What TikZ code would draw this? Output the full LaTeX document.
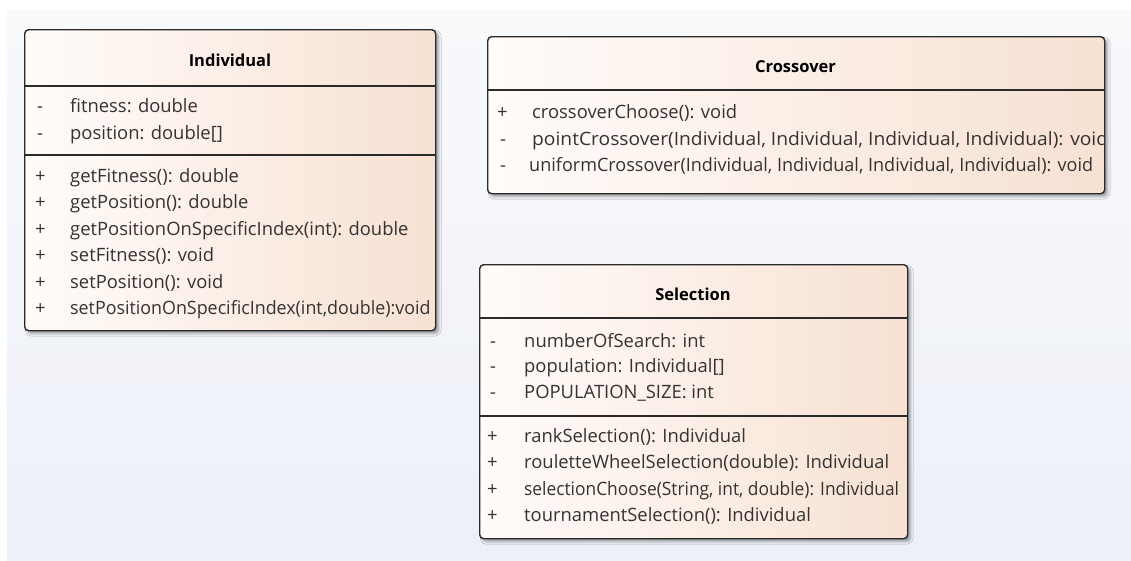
\documentclass[tikz,border=0pt]{standalone}
\usepackage{fontspec}
\setmainfont{Open Sans}
\usetikzlibrary{shadows.blur}

\definecolor{canvastop}{HTML}{F8F9FB}
\definecolor{canvasbot}{HTML}{EDF0F8}
\definecolor{boxleft}{HTML}{FFFCFA}
\definecolor{boxright}{HTML}{F7E1D3}
\definecolor{boxline}{HTML}{2A2A2A}
\definecolor{membertext}{HTML}{353331}

\tikzset{
  classbox/.style={draw=boxline, line width=1.4pt, rounded corners=4pt,
    left color=boxleft, right color=boxright, inner sep=0pt,
    anchor=north west,
    blur shadow={shadow xshift=3pt, shadow yshift=-3pt, shadow opacity=35,
      shadow blur radius=2.5pt, shadow blur steps=6}},
  divider/.style={draw=boxline, line width=1.4pt},
  title/.style={font=\fontsize{16.5}{19}\selectfont\bfseries, text=black,
    inner sep=0pt},
  member/.style={font=\fontsize{18.4}{21}\selectfont, text=membertext,
    inner sep=0pt, anchor=base west},
}
% member text stretched or condensed horizontally
\newcommand{\hscaled}[2]{\scalebox{#1}[1]{#2}}

\begin{document}
\begin{tikzpicture}[x=1pt, y=-1pt]
  \useasboundingbox (0,0) rectangle (1131,560);
  % canvas
  \fill[white] (0,0) rectangle (1131,560);
  \shade[top color=canvastop, bottom color=canvasbot] (7,10) rectangle (1131,560);

  % ---------------- Individual ----------------
  \node[classbox, minimum width=411pt, minimum height=301pt] (ind) at (24,29) {};
  \coordinate (indS1) at (24,86);
  \coordinate (indS2) at (24,155);
  \draw[divider] (indS1) -- (indS1 -| ind.east);
  \draw[divider] (indS2) -- (indS2 -| ind.east);
  \node[title] (indT) at (230,60) {Individual};
  \begin{scope}
    \clip (ind.north west) rectangle ([xshift=-0.8pt]ind.south east);
    \node[member] (indA1s) at (37,112) {-};
    \node[member] (indA1) at (70,112) {fitness: double};
    \node[member] (indA2s) at (37,139) {-};
    \node[member] (indA2) at (70,139) {position: double[]};
    \node[member] (indM1s) at (35,182) {+};
    \node[member] (indM1) at (70,182) {getFitness(): double};
    \node[member] (indM2s) at (35,208) {+};
    \node[member] (indM2) at (70,208) {getPosition(): double};
    \node[member] (indM3s) at (35,235) {+};
    \node[member] (indM3) at (70,235) {getPositionOnSpecificIndex(int): double};
    \node[member] (indM4s) at (35,261) {+};
    \node[member] (indM4) at (70,261) {setFitness(): void};
    \node[member] (indM5s) at (35,288) {+};
    \node[member] (indM5) at (70,288) {setPosition(): void};
    \node[member] (indM6s) at (35,314) {+};
    \node[member] (indM6) at (70,314) {\hscaled{0.97}{setPositionOnSpecificIndex(int,double):void}};
  \end{scope}

  % ---------------- Crossover ----------------
  \node[classbox, minimum width=617pt, minimum height=157pt] (cro) at (487,36) {};
  \coordinate (croS1) at (487,90);
  \draw[divider] (croS1) -- (croS1 -| cro.east);
  \node[title] (croT) at (795.5,67) {Crossover};
  \begin{scope}
    \clip (cro.north west) rectangle ([xshift=-0.8pt]cro.south east);
    \node[member] (croM1s) at (497,118) {+};
    \node[member] (croM1) at (532,118) {crossoverChoose(): void};
    \node[member] (croM2s) at (500,145) {-};
    \node[member] (croM2) at (532,145) {\hscaled{1.045}{pointCrossover(Individual, Individual, Individual, Individual): void}};
    \node[member] (croM3s) at (500,171) {-};
    \node[member] (croM3) at (529,171) {\hscaled{0.98}{uniformCrossover(Individual, Individual, Individual, Individual): void}};
  \end{scope}

  % ---------------- Selection ----------------
  \node[classbox, minimum width=428pt, minimum height=274pt] (sel) at (479,264) {};
  \coordinate (selS1) at (479,318);
  \coordinate (selS2) at (479,416);
  \draw[divider] (selS1) -- (selS1 -| sel.east);
  \draw[divider] (selS2) -- (selS2 -| sel.east);
  \node[title] (selT) at (693,294) {Selection};
  \begin{scope}
    \clip (sel.north west) rectangle ([xshift=-0.8pt]sel.south east);
    \node[member] (selA1s) at (490,347) {-};
    \node[member] (selA1) at (524,347) {numberOfSearch: int};
    \node[member] (selA2s) at (490,372) {-};
    \node[member] (selA2) at (524,372) {population: Individual[]};
    \node[member] (selA3s) at (490,398) {-};
    \node[member] (selA3) at (524,398) {POPULATION\_SIZE: int};
    \node[member] (selM1s) at (487,442) {+};
    \node[member] (selM1) at (524,442) {rankSelection(): Individual};
    \node[member] (selM2s) at (487,468) {+};
    \node[member] (selM2) at (524,468) {rouletteWheelSelection(double): Individual};
    \node[member] (selM3s) at (487,495) {+};
    \node[member] (selM3) at (524,495) {\hscaled{0.943}{selectionChoose(String, int, double): Individual}};
    \node[member] (selM4s) at (487,521) {+};
    \node[member] (selM4) at (524,521) {tournamentSelection(): Individual};
  \end{scope}
\end{tikzpicture}
\end{document}
